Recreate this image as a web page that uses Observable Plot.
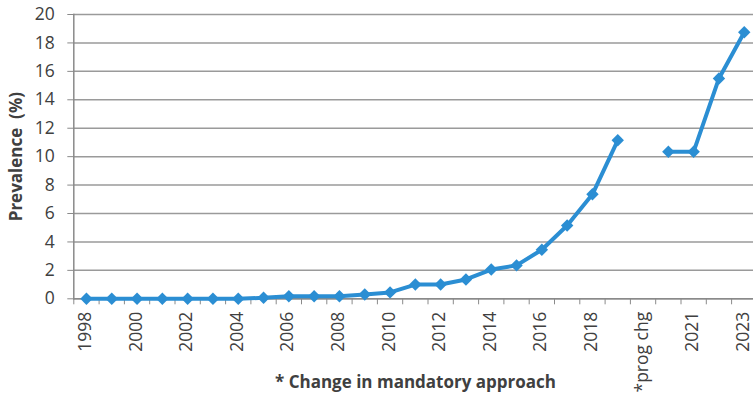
<!DOCTYPE html>
<html>
<head>
<meta charset="utf-8">
<script src="https://cdn.jsdelivr.net/npm/d3@7"></script>
<script src="https://cdn.jsdelivr.net/npm/@observablehq/plot@0.6"></script>
<style>
  html, body { margin: 0; padding: 0; background: #fff; overflow: hidden; }
  #chart svg { overflow: hidden; }
</style>
</head>
<body>
<div id="chart"></div>
<script>
const categories = ["1998","1999","2000","2001","2002","2003","2004","2005","2006","2007","2008","2009","2010","2011","2012","2013","2014","2015","2016","2017","2018","2019","*prog chg","2020","2021","2022","2023"];
const prevalence = [0,0,0,0,0,0,0,0.07,0.18,0.18,0.18,0.3,0.45,1.0,1.0,1.36,2.06,2.35,3.45,5.16,7.35,11.15,null,10.35,10.35,15.5,18.75];
const tickLabels = ["1998","2000","2002","2004","2006","2008","2010","2012","2014","2016","2018","*prog chg","2021","2023"];
const yTicks = [0,2,4,6,8,10,12,14,16,18,20];
const yTitle = "Prevalence  (%)";
const xTitle = "* Change in mandatory approach";

const data = categories.map((c, i) => ({cat: c, value: prevalence[i]}));
const blue = "#2b8ed3";
const grey = "#404040";
const font = "'Open Sans', sans-serif";
const xLeft = 73.3, xRight = 756.4;
const step = (xRight - xLeft) / categories.length;

const chart = Plot.plot({
  width: 753,
  height: 401,
  marginLeft: 73.3,
  marginRight: 0,
  marginTop: 14,
  marginBottom: 102.7,
  style: {fontFamily: font, fontSize: "17.5px", color: grey, background: "#fff"},
  x: {type: "point", domain: categories, padding: 0.5, range: [xLeft, xRight], round: false},
  y: {domain: [0, 20]},
  marks: [
    Plot.gridY(yTicks, {stroke: "#9a9a9a", strokeOpacity: 1, strokeWidth: 1.5}),
    Plot.ruleY([0], {stroke: "#8a8a8a", strokeWidth: 1.5}),
    Plot.frame({anchor: "left", stroke: "#8a8a8a", strokeWidth: 1.5}),
    Plot.axisY(yTicks, {tickSize: 6, tickPadding: 13, stroke: "#8a8a8a", fill: grey, label: null, fontSize: 17.5}),
    Plot.axisX(categories, {tickSize: 6, tickFormat: () => "", dx: -step / 2, stroke: "#8a8a8a", label: null}),
    Plot.axisX(tickLabels, {tickSize: 0, tickPadding: 13, tickRotate: -90, dx: -1, fill: grey, label: null, fontSize: 17.5}),
    Plot.line(data, {x: "cat", y: "value", stroke: blue, strokeWidth: 4, curve: "linear"}),
    Plot.dot(data.filter(d => d.value != null), {x: "cat", y: "value", symbol: "diamond2", r: 5.6, fill: blue, stroke: "none"}),
    Plot.text([yTitle], {frameAnchor: "left", textAnchor: "middle", rotate: -90, dx: -57, fontWeight: "bold", fontSize: 17, fill: grey}),
    Plot.text([xTitle], {frameAnchor: "bottom", textAnchor: "middle", dx: 415 - (73.3 + 753) / 2, dy: 89.5, fontWeight: "bold", fontSize: 17, fill: grey})
  ]
});
document.getElementById("chart").appendChild(chart);
</script>
</body>
</html>
